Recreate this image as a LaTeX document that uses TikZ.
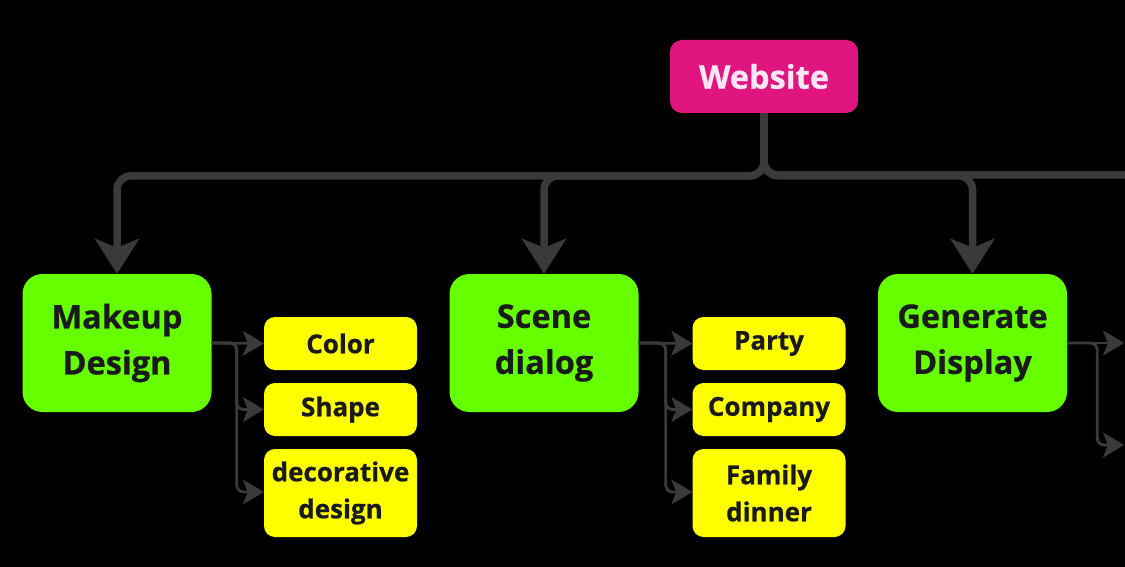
\documentclass[tikz,border=0pt]{standalone}
\usepackage{fontspec}
\setmainfont{Open Sans}[BoldFeatures={FakeBold=0.6}]
\usetikzlibrary{arrows.meta,calc}
\definecolor{bgc}{HTML}{000000}
\definecolor{webc}{HTML}{E0157F}
\definecolor{webtxt}{HTML}{FCE6F2}
\definecolor{greenc}{HTML}{66FF00}
\definecolor{yellc}{HTML}{FFFF00}
\definecolor{linec}{HTML}{3A3A3A}
\definecolor{txtc}{HTML}{1A1A1A}
\tikzset{
  x=1pt,y=-1pt,
  webbox/.style={fill=webc,rounded corners=12pt,minimum width=188pt,minimum height=73pt,inner sep=0pt,
    text=webtxt,font=\fontsize{32.5}{38}\selectfont\bfseries},
  catbox/.style={fill=greenc,rounded corners=20pt,minimum width=189pt,minimum height=138pt,inner sep=0pt,
    text=txtc,align=center,font=\fontsize{32.5}{46}\selectfont\bfseries},
  itembox/.style={fill=yellc,rounded corners=11pt,minimum width=153pt,inner sep=0pt,
    text=txtc,align=center,font=\fontsize{26}{37}\selectfont\bfseries},
  mainline/.style={draw=linec,line width=7.5pt,rounded corners=14pt,
    -{Stealth[length=35pt,width=44pt,inset=9pt]}},
  barline/.style={draw=linec,line width=7.5pt,rounded corners=14pt},
  subline/.style={draw=linec,line width=2.8pt,rounded corners=7pt,
    -{Stealth[length=21pt,width=25pt,inset=5pt]}},
}
\begin{document}
\begin{tikzpicture}
\fill[bgc] (0,0) rectangle (1125,567);
\useasboundingbox (0,0) rectangle (1125,567);
\begin{scope}
\clip (0,0) rectangle (1125,567);
\node[webbox] (web) at (764,76.5) {Website};
\node[catbox] (mk) at (117,343) {Makeup\\Design};
\node[catbox] (sc) at (544,343) {Scene\\dialog};
\node[catbox] (gd) at (972.5,343) {Generate\\Display};
\node[itembox,minimum height=53pt] (color) at (340.5,343.5) {Color};
\node[itembox,minimum height=53pt] (shape) at (340.5,409.5) {Shape};
\node[itembox,minimum height=88pt] (deco) at (340.5,493) {decorative\\design};
\node[itembox,minimum height=53pt] (party) at (769,343.5) {Party};
\node[itembox,minimum height=53pt] (comp) at (769,409.5) {Company};
\node[itembox,minimum height=88pt] (fam) at (769,493) {Family\\dinner};
\coordinate (rend) at (1140,175);
\coordinate (g1) at (1124,343);
\coordinate (g2) at (1124,445);
% main connectors
\path[mainline] (web.south) |- ($(mk.north)+(0,-98)$) -- (mk.north);
\path[mainline] (web.south) |- ($(sc.north)+(0,-98)$) -- (sc.north);
\path[mainline] (web.south) |- ($(gd.north)+(0,-98)$) -- (gd.north);
\path[barline] (web.south) |- (rend);
% sub connectors
\path[subline] (mk.east) -- (color.west);
\path[subline] (mk.east) -- ++(25,0) |- (shape.west);
\path[subline] (mk.east) -- ++(25,0) |- ($(deco.west)+(0,-1)$);
\path[subline] (sc.east) -- (party.west);
\path[subline] (sc.east) -- ++(27,0) |- (comp.west);
\path[subline] (sc.east) -- ++(27,0) |- ($(fam.west)+(0,-1)$);
\path[subline] (gd.east) -- (g1);
\path[subline] (gd.east) -- ++(30,0) |- (g2);
\end{scope}
\end{tikzpicture}
\end{document}
